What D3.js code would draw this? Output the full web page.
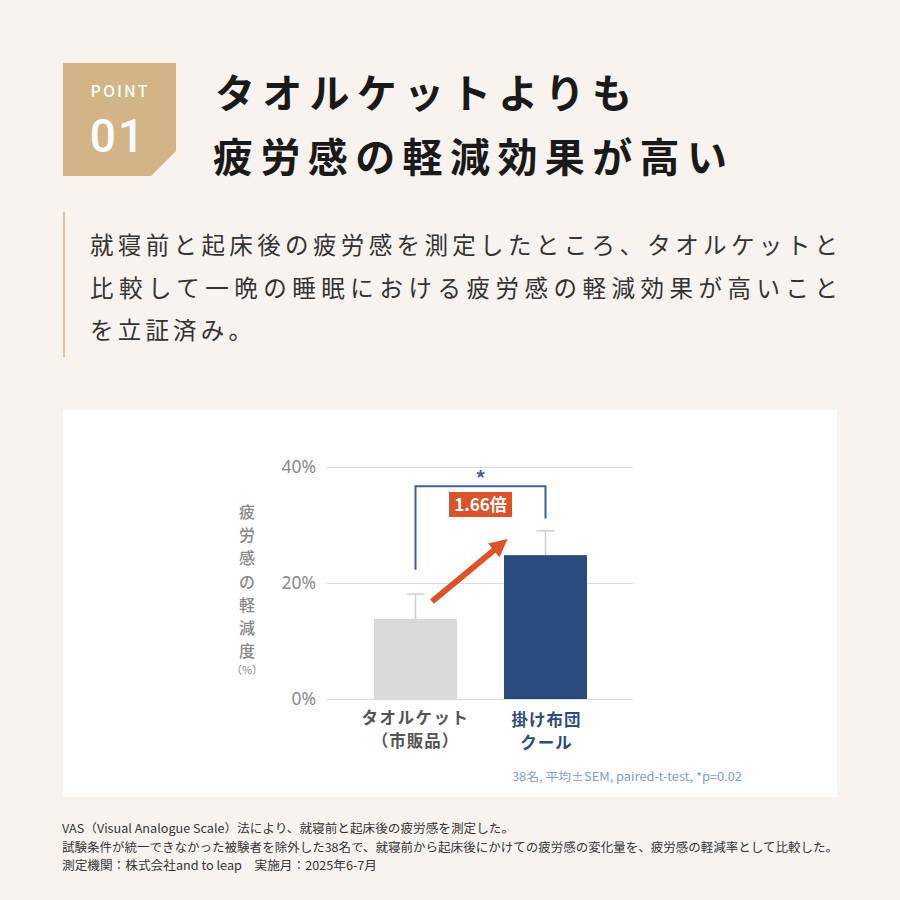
<!DOCTYPE html>
<html>
<head>
<meta charset="utf-8">
<script src="https://cdn.jsdelivr.net/npm/d3@7"></script>
<style>
  html, body { margin: 0; padding: 0; background: #f9f3ef; }
  svg { display: block; font-family: "Noto Sans CJK JP", "Noto Sans", sans-serif; }
</style>
</head>
<body>
<svg id="chart" width="900" height="900"></svg>
<script>
// ---- data ----
var categories = ["タオルケット", "掛け布団クール"];
var categoryLines = [["タオルケット", "（市販品）"], ["掛け布団", "クール"]];
var values = [13.8, 24.8];
var errors = [4.3, 4.2];
var yTicks = [0, 20, 40];
var ratioLabel = "1.66倍";
var titleLines = ["タオルケットよりも", "疲労感の軽減効果が高い"];
var bodyLines = [
  "就寝前と起床後の疲労感を測定したところ、タオルケットと",
  "比較して一晩の睡眠における疲労感の軽減効果が高いこと",
  "を立証済み。"
];
var yLabelChars = ["疲", "労", "感", "の", "軽", "減", "度"];
var statNote = "38名, 平均±SEM, paired-t-test, *p=0.02";
var footLines = [
  "VAS（Visual Analogue Scale）法により、就寝前と起床後の疲労感を測定した。",
  "試験条件が統一できなかった被験者を除外した38名で、就寝前から起床後にかけての疲労感の変化量を、疲労感の軽減率として比較した。",
  "測定機関：株式会社and to leap　実施月：2025年6-7月"
];

var svg = d3.select("#chart");

// background
svg.append("rect").attr("width", 900).attr("height", 900).attr("fill", "#f9f3ef");

// badge
svg.append("path")
  .attr("d", "M63,63 L176,63 L176,151 L151,176 L63,176 Z")
  .attr("fill", "#d2b487");
svg.append("text").attr("x", 120).attr("y", 97).attr("text-anchor", "middle")
  .attr("fill", "#fff").attr("font-size", 16).attr("font-weight", 500)
  .attr("letter-spacing", 2).text("POINT");
svg.append("text").attr("x", 118).attr("y", 152).attr("text-anchor", "middle")
  .attr("fill", "#fff").attr("font-size", 46).attr("font-weight", 500)
  .attr("font-family", "Roboto, sans-serif").attr("letter-spacing", 2).text("01");

// title
var titleW = [417, 514];
svg.selectAll("text.title").data(titleLines).join("text")
  .attr("class", "title")
  .attr("x", function(d, i) { return i ? 213 : 215; })
  .attr("y", function(d, i) { return i ? 172 : 108; })
  .attr("font-size", 40).attr("font-weight", 700).attr("fill", "#1a1a1a")
  .attr("textLength", function(d, i) { return titleW[i]; })
  .attr("lengthAdjust", "spacing")
  .text(function(d) { return d; });

// quote bar + body
svg.append("line").attr("x1", 64).attr("x2", 64).attr("y1", 212).attr("y2", 357)
  .attr("stroke", "#dcc4a0").attr("stroke-width", 2);
var bodyW = [748, 748, 162];
svg.selectAll("text.body").data(bodyLines).join("text")
  .attr("class", "body")
  .attr("x", 90)
  .attr("y", function(d, i) { return 254 + i * 42.5; })
  .attr("font-size", 23.5).attr("fill", "#333")
  .attr("textLength", function(d, i) { return bodyW[i]; })
  .attr("lengthAdjust", "spacing")
  .text(function(d) { return d; });

// chart panel
svg.append("rect").attr("x", 63).attr("y", 410).attr("width", 774).attr("height", 387)
  .attr("fill", "#fff");

var y = d3.scaleLinear().domain([0, 40]).range([699, 467]);
var x = d3.scaleBand().domain(categories).range([374, 587]).paddingInner(0.3615).paddingOuter(0);

// gridlines + tick labels
var yAxis = d3.axisLeft(y).tickValues(yTicks).tickSize(-306).tickPadding(11)
  .tickFormat(function(d) { return d + "%"; });
var gy = svg.append("g").attr("transform", "translate(327,0)").call(yAxis);
gy.select(".domain").remove();
gy.selectAll(".tick line").attr("stroke", "#dcdcdc").attr("stroke-width", 1.2);
gy.selectAll(".tick text").attr("fill", "#8a8a8a").attr("font-size", 17.5)
  .attr("font-family", "Noto Sans, sans-serif").attr("font-weight", 400);

// y label
svg.selectAll("text.ylab").data(yLabelChars).join("text")
  .attr("class", "ylab")
  .attr("x", 247).attr("y", function(d, i) { return 518 + i * 23.2; })
  .attr("text-anchor", "middle").attr("font-size", 16).attr("font-weight", 500)
  .attr("fill", "#888").text(function(d) { return d; });
svg.append("text").attr("x", 247).attr("y", 674).attr("text-anchor", "middle")
  .attr("font-size", 11).attr("fill", "#888").text("（%）");

// error bars
var colors = ["#d9d9d9", "#294a7c"];
var eb = svg.append("g").attr("stroke", "#cfcfcf").attr("stroke-width", 1.5);
categories.forEach(function(c, i) {
  var cx = x(c) + x.bandwidth() / 2;
  eb.append("line").attr("x1", cx).attr("x2", cx).attr("y1", y(values[i])).attr("y2", y(values[i] + errors[i]));
  eb.append("line").attr("x1", cx - 9).attr("x2", cx + 9).attr("y1", y(values[i] + errors[i])).attr("y2", y(values[i] + errors[i]));
});

// bars
svg.selectAll("rect.bar").data(values).join("rect")
  .attr("class", "bar")
  .attr("x", function(d, i) { return x(categories[i]); })
  .attr("width", x.bandwidth())
  .attr("y", function(d) { return y(d); })
  .attr("height", function(d) { return y(0) - y(d); })
  .attr("fill", function(d, i) { return colors[i]; });

// significance bracket
var cx0 = x(categories[0]) + x.bandwidth() / 2;
var cx1 = x(categories[1]) + x.bandwidth() / 2;
var bracketY = y(36.7);
svg.append("path")
  .attr("d", "M" + cx0 + "," + y(22.3) + "V" + bracketY + "H" + cx1 + "V" + y(31.1))
  .attr("fill", "none").attr("stroke", "#3f5f9c").attr("stroke-width", 2);
svg.append("text").attr("x", (cx0 + cx1) / 2).attr("y", 486).attr("text-anchor", "middle")
  .attr("font-size", 20).attr("font-weight", 700).attr("fill", "#3f5f9c").text("*");

// ratio label
svg.append("rect").attr("x", 449).attr("y", 492).attr("width", 63).attr("height", 25)
  .attr("fill", "#d9532b");
svg.append("text").attr("x", 480.5).attr("y", 511).attr("text-anchor", "middle")
  .attr("font-size", 17).attr("font-weight", 700).attr("fill", "#fff").text(ratioLabel);

// arrow
var defs = svg.append("defs");
defs.append("marker").attr("id", "ah").attr("viewBox", "0 0 10 10")
  .attr("refX", 6).attr("refY", 5).attr("markerWidth", 3).attr("markerHeight", 3)
  .attr("orient", "auto")
  .append("path").attr("d", "M0,0 L10,5 L0,10 Z").attr("fill", "#dd5228");
svg.append("line")
  .attr("x1", 432).attr("y1", y(16.8)).attr("x2", 502).attr("y2", y(26.8))
  .attr("stroke", "#dd5228").attr("stroke-width", 6).attr("marker-end", "url(#ah)");

// category labels
var labColors = ["#555", "#2d4b7d"];
categoryLines.forEach(function(lines, i) {
  var cx = x(categories[i]) + x.bandwidth() / 2 + (i ? 1 : 0);
  lines.forEach(function(t, j) {
    svg.append("text").attr("x", cx).attr("y", 724 + (i ? 2 : 0) + j * 23)
      .attr("text-anchor", "middle").attr("font-size", 16.5).attr("font-weight", 700)
      .attr("letter-spacing", i === 0 && j === 0 ? 1.5 : 1)
      .attr("fill", labColors[i]).text(t);
  });
});

// stat note
svg.append("text").attr("x", 512).attr("y", 781).attr("font-size", 11.5)
  .attr("fill", "#7d9ccf").attr("textLength", 230).attr("lengthAdjust", "spacingAndGlyphs")
  .text(statNote);

// footnotes
var footW = [452, 776, 315];
svg.selectAll("text.foot").data(footLines).join("text")
  .attr("class", "foot")
  .attr("x", 62).attr("y", function(d, i) { return 833 + i * 18.5; })
  .attr("font-size", 12).attr("fill", "#333")
  .attr("textLength", function(d, i) { return footW[i]; })
  .attr("lengthAdjust", "spacingAndGlyphs")
  .text(function(d) { return d; });
</script>
</body>
</html>
